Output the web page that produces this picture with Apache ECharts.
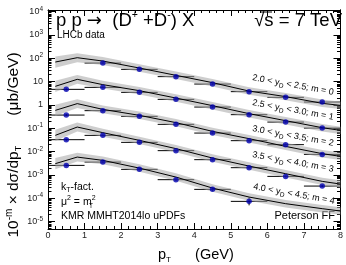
<!DOCTYPE html>
<html>
<head>
<meta charset="UTF-8">
<script src="https://cdn.jsdelivr.net/npm/echarts@6/dist/echarts.min.js"></script>
<style>
  html, body { margin: 0; background: #fff; }
  #main { width: 346px; height: 265px; }
</style>
</head>
<body>
<div id="main"></div>
<script>
// LHCb bins (centres, width 1 GeV)
var ptBins = [0.5, 1.5, 2.5, 3.5, 4.5, 5.5, 6.5, 7.5];
// LHCb data, already multiplied by 10^-m  (ub/GeV)
var lhcb0 = [null, 61.9, 33.2, 16.2, 7.79, 3.68, 2.10, 1.32];
var lhcb1 = [4.62, 5.62, 3.43, 1.72, 0.805, 0.380, 0.183, 0.101];
var lhcb2 = [0.365, 0.564, 0.321, 0.146, 0.0618, 0.0292, 0.0197, 0.00755];
var lhcb3 = [0.0322, 0.0493, 0.0247, 0.0109, 0.00448, 0.00203, 0.000861, 0.000331];
var lhcb4 = [0.00255, 0.00353, 0.00172, 0.000622, 0.000239, 0.0000731, null, null];
// vertical errors, in decades
var lhcbErr4 = [0.04, 0.04, 0.04, 0.05, 0.07, 0.17, 0, 0];

// kT-factorization prediction (central line)
var theoryPt = [0.2, 0.8, 1.5, 2.5, 3.5, 4.5, 5.5, 6.5, 7.5, 8.0];
var theory0 = [68.4, 105, 75.4, 37.8, 18.4, 8.95, 3.90, 2.25, 1.16, 0.95];
var theory1 = [6.21, 12.4, 7.34, 4.06, 1.96, 0.924, 0.42, 0.21, 0.105, 0.0807];
var theory2 = [0.581, 1.13, 0.641, 0.355, 0.173, 0.0731, 0.0356, 0.0166, 0.0081, 0.00621];
var theory3 = [0.0493, 0.112, 0.0643, 0.0301, 0.0133, 0.00525, 0.00238, 0.00112, 0.000526, 0.000403];
var theory4 = [0.00302, 0.00579, 0.00418, 0.00195, 0.000804, 0.000272, 0.000112, 0.0000582, 0.0000356, 0.0000281];
// scale uncertainty band half width, in decades
var bandWidth = [0.24, 0.19, 0.17, 0.16, 0.16, 0.16, 0.16, 0.16, 0.16, 0.16];

var rapBins = [['2.0', '2.5'], ['2.5', '3.0'], ['3.0', '3.5'], ['3.5', '4.0'], ['4.0', '4.5']];
var yDecades = [-5, -4, -3, -2, -1, 0, 1, 2, 3, 4];

var lhcb = [lhcb0, lhcb1, lhcb2, lhcb3, lhcb4];
var theory = [theory0, theory1, theory2, theory3, theory4];

var FONT = 'Liberation Sans';
var YMIN = -5.32, YMAX = 4.065;

// minor ticks 2..9 x 10^n
var minorTicks = [];
for (var n = -6; n <= 4; n++) {
    for (var k = 2; k <= 9; k++) {
        var t = n + Math.log10(k);
        if (t > YMIN && t < YMAX) minorTicks.push(t);
    }
}

var series = [];

// horizontal (bin width) and vertical error bars
lhcb.forEach(function (d, m) {
    var pts = [];
    d.forEach(function (v, i) {
        if (v == null) return;
        pts.push([ptBins[i], Math.log10(v), m == 4 ? lhcbErr4[i] : 0.04]);
    });
    series.push({
        type: 'custom', z: 1, silent: true, data: pts,
        renderItem: function (params, api) {
            var x = api.value(0), y = api.value(1), e = api.value(2);
            var a = api.coord([x - 0.5, y]), b = api.coord([x + 0.5, y]);
            var c = api.coord([x, y - e]), d2 = api.coord([x, y + e]);
            return {
                type: 'group', children: [
                    { type: 'line', shape: { x1: a[0], y1: a[1], x2: b[0], y2: b[1] }, style: { stroke: '#000', lineWidth: 1 } },
                    { type: 'line', shape: { x1: c[0], y1: c[1], x2: d2[0], y2: d2[1] }, style: { stroke: '#000', lineWidth: 1 } }
                ]
            };
        }
    });
});

// uncertainty bands
series.push({
    type: 'custom', z: 2, silent: true,
    data: theory.map(function (c, i) { return [i, 0]; }),
    renderItem: function (params, api) {
        var c = theory[params.dataIndex];
        var up = [], lo = [];
        for (var i = 0; i < theoryPt.length; i++) {
            up.push(api.coord([theoryPt[i], Math.log10(c[i]) + bandWidth[i]]));
            lo.unshift(api.coord([theoryPt[i], Math.log10(c[i]) - bandWidth[i]]));
        }
        return { type: 'polygon', shape: { points: up.concat(lo) }, style: { fill: 'rgba(165,165,165,0.55)' } };
    }
});

// central lines
theory.forEach(function (c) {
    series.push({
        type: 'line', z: 3, silent: true, symbol: 'none',
        lineStyle: { color: '#000', width: 1 },
        data: c.map(function (v, i) { return [theoryPt[i], Math.log10(v)]; })
    });
});

// data points
lhcb.forEach(function (d) {
    var pts = [];
    d.forEach(function (v, i) { if (v != null) pts.push([ptBins[i], Math.log10(v)]); });
    series.push({
        type: 'scatter', z: 4, silent: true, symbol: 'circle', symbolSize: 5.5,
        itemStyle: { color: '#0000b0' }, data: pts
    });
});

var supRich = {
    b: { fontFamily: FONT, fontSize: 9, lineHeight: 12, color: '#222' },
    s: { fontFamily: FONT, fontSize: 6.5, lineHeight: 7, verticalAlign: 'top', color: '#222' }
};

function xAxisDef(pos, labels) {
    return {
        type: 'value', position: pos, min: 0, max: 8, interval: 1,
        axisLine: { show: true, onZero: false, lineStyle: { color: '#000', width: 1 } },
        axisTick: { show: true, inside: true, length: 6, lineStyle: { color: '#000' } },
        minorTick: { show: true, splitNumber: 5, length: 3, lineStyle: { color: '#000' } },
        axisLabel: { show: labels, fontFamily: FONT, fontSize: 9, color: '#222', margin: 2 },
        splitLine: { show: false }
    };
}

function yAxisDef(pos, ticks, len, labels) {
    return {
        type: 'value', position: pos, min: YMIN, max: YMAX,
        axisLine: { show: true, onZero: false, lineStyle: { color: '#000', width: 1 } },
        axisTick: { show: true, inside: true, length: len, customValues: ticks, lineStyle: { color: '#000' } },
        axisLabel: {
            show: labels, customValues: yDecades, margin: 5, rich: supRich,
            formatter: function (v) {
                var n = Math.round(v);
                if (n == 0) return '{b|1}';
                if (n == 1) return '{b|10}';
                return '{b|10}{s|' + n + '}';
            }
        },
        splitLine: { show: false }
    };
}

function rapText(r) {
    return '{a|' + r[0] + ' < y}{d|D}{a| < ' + r[1] + '; m = ';
}

var labelRich = {
    a: { fontFamily: FONT, fontSize: 9, lineHeight: 13, fill: '#000' },
    d: { fontFamily: FONT, fontSize: 6.5, lineHeight: 7, verticalAlign: 'bottom', fill: '#000' }
};
var labelPos = [[293, 85], [293, 110], [293, 136], [293, 162], [294, 194]];

var graphics = labelPos.map(function (p, m) {
    return {
        type: 'text', x: p[0], y: p[1], rotation: -0.18, silent: true,
        style: { text: rapText(rapBins[m]) + m + '}', rich: labelRich, align: 'center', verticalAlign: 'middle' }
    };
});

graphics.push(
    {
        type: 'text', x: 56, y: 21, silent: true,
        style: {
            text: '{a|p p }{r|\u2192}{a|  (D}{s|+}{a| +D}{s|-}{a|) X}', align: 'left', verticalAlign: 'middle',
            rich: {
                a: { fontFamily: FONT, fontSize: 18.5, lineHeight: 22, fill: '#000' },
                r: { fontFamily: 'DejaVu Sans', fontSize: 18, lineHeight: 22, fill: '#000' },
                s: { fontFamily: FONT, fontSize: 10.5, lineHeight: 10, verticalAlign: 'top', fill: '#000' }
            }
        }
    },
    {
        type: 'text', x: 342, y: 21, silent: true,
        style: { text: '\u221As = 7 TeV', font: '18.5px "Liberation Sans"', fill: '#000', align: 'right', verticalAlign: 'middle' }
    },
    {
        type: 'line', silent: true,
        shape: { x1: 261, y1: 12, x2: 272, y2: 12 },
        style: { stroke: '#000', lineWidth: 1 }
    },
    {
        type: 'text', x: 57, y: 35, silent: true,
        style: { text: 'LHCb data', font: '10px "Liberation Sans"', fill: '#000', align: 'left', verticalAlign: 'middle' }
    },
    {
        type: 'text', x: 61, y: 187, silent: true,
        style: {
            text: '{a|k}{d|T}{a|-fact.}', align: 'left', verticalAlign: 'middle',
            rich: {
                a: { fontFamily: FONT, fontSize: 10.5, lineHeight: 14, fill: '#000' },
                d: { fontFamily: FONT, fontSize: 7, lineHeight: 7, verticalAlign: 'bottom', fill: '#000' }
            }
        }
    },
    {
        type: 'text', x: 61, y: 202, silent: true,
        style: {
            text: '{a|\u03BC}{s|2}{a| = m}{s|2}', align: 'left', verticalAlign: 'middle',
            rich: {
                a: { fontFamily: FONT, fontSize: 10.5, lineHeight: 14, fill: '#000' },
                s: { fontFamily: FONT, fontSize: 7, lineHeight: 7, verticalAlign: 'top', fill: '#000' }
            }
        }
    },
    {
        type: 'text', x: 89, y: 206, silent: true,
        style: { text: 'T', font: '6.5px "Liberation Sans"', fill: '#000', align: 'left', verticalAlign: 'middle' }
    },
    {
        type: 'text', x: 61, y: 216, silent: true,
        style: { text: 'KMR MMHT2014lo uPDFs', font: '10.5px "Liberation Sans"', fill: '#000', align: 'left', verticalAlign: 'middle' }
    },
    {
        type: 'text', x: 335, y: 216, silent: true,
        style: { text: 'Peterson FF', font: '11px "Liberation Sans"', fill: '#000', align: 'right', verticalAlign: 'middle' }
    },
    {
        type: 'text', x: 158, y: 255, silent: true,
        style: {
            text: '{a|p}{d|T}{a|      (GeV)}', align: 'left', verticalAlign: 'middle',
            rich: {
                a: { fontFamily: FONT, fontSize: 14.5, lineHeight: 18, fill: '#000' },
                d: { fontFamily: FONT, fontSize: 8, lineHeight: 8, verticalAlign: 'bottom', fill: '#000' }
            }
        }
    },
    {
        type: 'text', x: 14, y: 145, rotation: Math.PI / 2, silent: true,
        style: {
            text: '{a|10}{s|-m}{a| \u00D7 d\u03C3/dp}{d|T}{a|       (\u03BCb/GeV)}', align: 'center', verticalAlign: 'middle',
            rich: {
                a: { fontFamily: FONT, fontSize: 15.5, lineHeight: 19, fill: '#000' },
                s: { fontFamily: FONT, fontSize: 10, lineHeight: 10, verticalAlign: 'top', fill: '#000' },
                d: { fontFamily: FONT, fontSize: 9, lineHeight: 9, verticalAlign: 'bottom', fill: '#000' }
            }
        }
    }
);

var chart = echarts.init(document.getElementById('main'));
chart.setOption({
    animation: false,
    backgroundColor: '#fff',
    grid: { left: 48, right: 4, top: 10, bottom: 36, containLabel: false },
    xAxis: [xAxisDef('bottom', true), xAxisDef('top', false)],
    yAxis: [
        yAxisDef('left', yDecades, 7, true),
        yAxisDef('left', minorTicks, 3.5, false),
        yAxisDef('right', yDecades, 7, false),
        yAxisDef('right', minorTicks, 3.5, false)
    ],
    series: series,
    graphic: graphics
});
</script>
</body>
</html>
